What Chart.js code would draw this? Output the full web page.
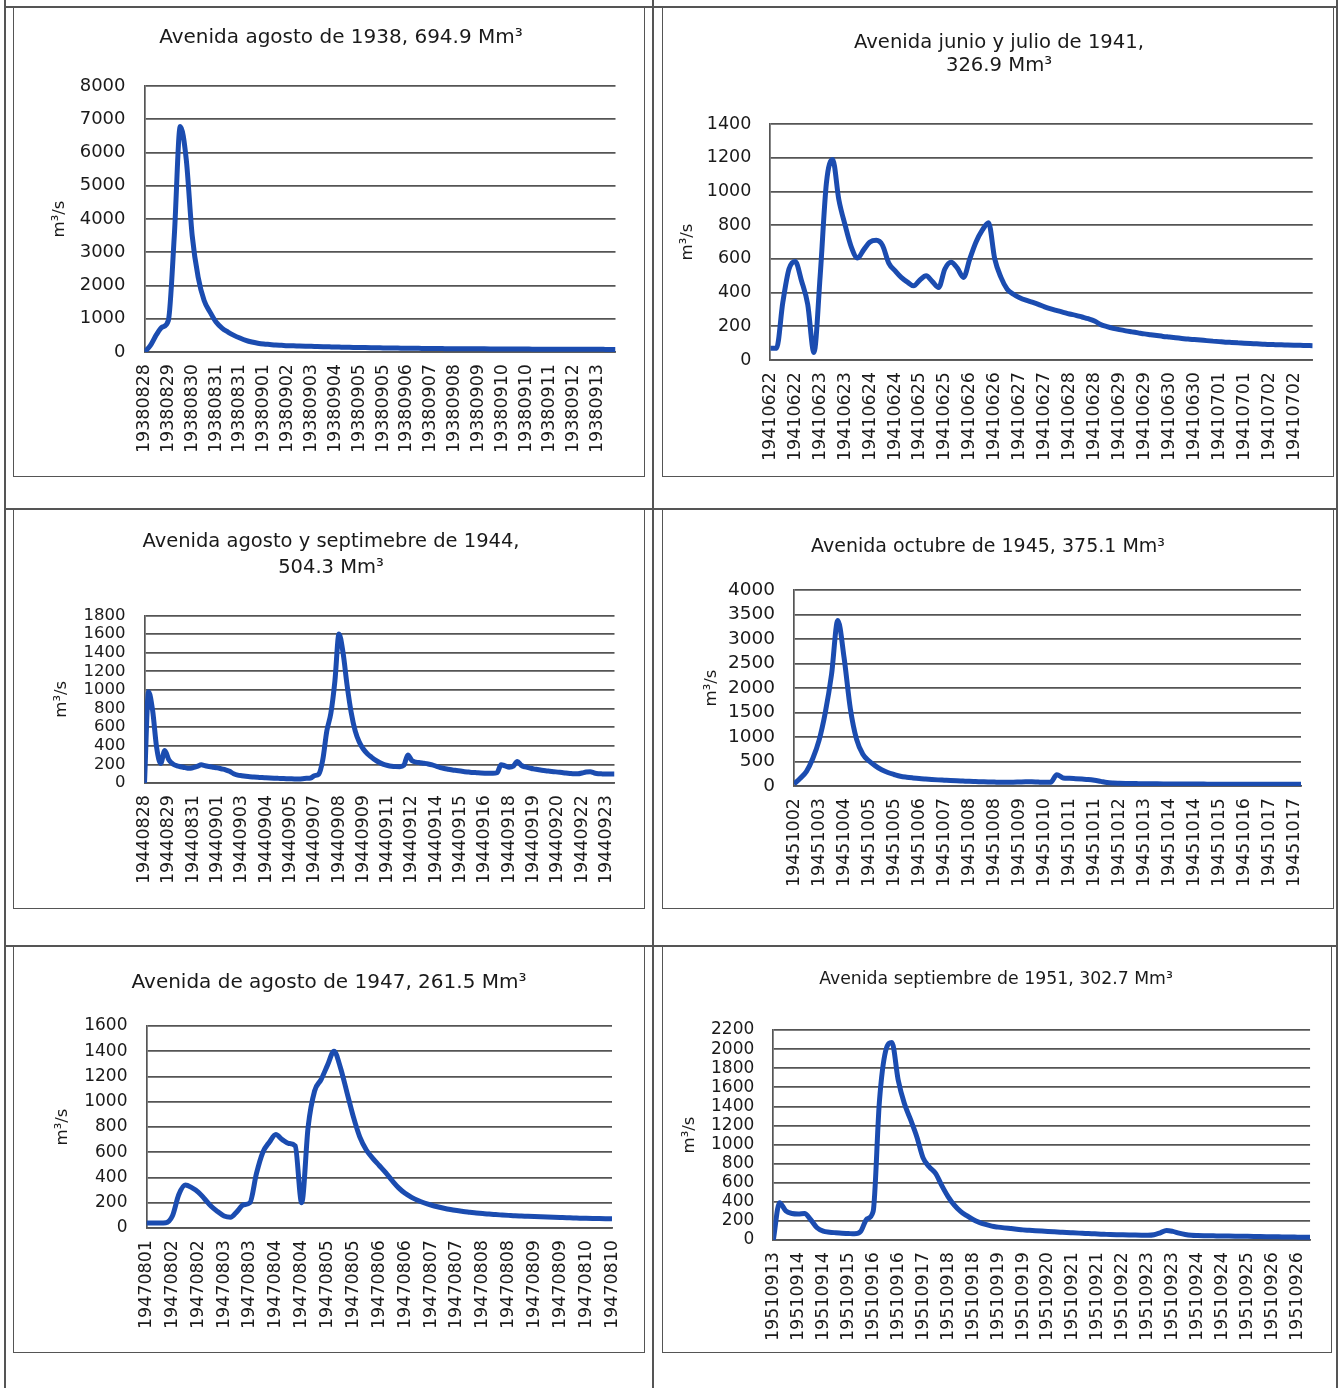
<!DOCTYPE html>
<html lang="es">

<head>
    <meta charset="utf-8" />
    <title>Avenidas 1938 - 1951</title>
    <script src="https://cdn.jsdelivr.net/npm/chart.js"></script>
    <style>
        body {
            margin: 0;
            background: #fff;
        }

        .page {
            position: relative;
            width: 1338px;
            height: 1388px;
            overflow: hidden;
        }

        .rule {
            position: absolute;
            background: #555;
        }

        .frame {
            position: absolute;
            border: 1.6px solid #555;
            box-sizing: border-box;
        }

        canvas {
            position: absolute;
        }
    </style>
</head>

<body>
    <div class="page">
        <div class="rule" style="left:4px;top:0;width:1.5px;height:1388px"></div>
        <div class="rule" style="left:652px;top:0;width:1.5px;height:1388px"></div>
        <div class="rule" style="left:1336px;top:0;width:1.5px;height:1388px"></div>
        <div class="rule" style="left:4px;top:6px;width:1334px;height:1.5px"></div>
        <div class="rule" style="left:4px;top:508px;width:1334px;height:1.5px"></div>
        <div class="rule" style="left:4px;top:945px;width:1334px;height:1.5px"></div>

        <div class="frame" style="left:13px;top:6px;width:632px;height:471px"></div>
        <div class="frame" style="left:662px;top:6px;width:672px;height:471px"></div>
        <div class="frame" style="left:13px;top:508px;width:632px;height:401px"></div>
        <div class="frame" style="left:662px;top:508px;width:672px;height:401px"></div>
        <div class="frame" style="left:13px;top:945px;width:632px;height:408px"></div>
        <div class="frame" style="left:662px;top:945px;width:670px;height:408px"></div>

        <canvas id="c1" width="632" height="470" style="left:13px;top:7px"></canvas>
        <canvas id="c2" width="671" height="470" style="left:662px;top:7px"></canvas>
        <canvas id="c3" width="632" height="400" style="left:13px;top:509px"></canvas>
        <canvas id="c4" width="671" height="400" style="left:662px;top:509px"></canvas>
        <canvas id="c5" width="632" height="406" style="left:13px;top:946px"></canvas>
        <canvas id="c6" width="669" height="406" style="left:662px;top:946px"></canvas>
    </div>

    <script>
        // --- data: one tick label every perLabel readings ---
        const c1Labels = ['19380828', '19380829', '19380830', '19380831', '19380831', '19380901', '19380902',
            '19380903', '19380904', '19380905', '19380905', '19380906', '19380907', '19380908', '19380909',
            '19380910', '19380910', '19380911', '19380912', '19380913'];
        const c1Flow = [0, 200, 520, 750, 950, 3500, 6780, 5800, 3500, 2250,
            1550, 1200, 900, 720, 600, 500, 420, 350, 300, 265,
            240, 225, 210, 200, 190, 185, 180, 175, 170, 165,
            160, 155, 150, 146, 142, 138, 135, 132, 129, 126,
            123, 120, 118, 116, 114, 112, 110, 108, 106, 104,
            102, 100, 99, 98, 97, 96, 95, 94, 93, 92,
            91, 90, 89, 88, 87, 86, 85, 85, 84, 84,
            83, 83, 82, 82, 81, 80, 80, 79, 78, 78];

        const c2Labels = ['19410622', '19410622', '19410623', '19410623', '19410624', '19410624', '19410625',
            '19410625', '19410626', '19410626', '19410627', '19410627', '19410628', '19410628', '19410629',
            '19410629', '19410630', '19410630', '19410701', '19410701', '19410702', '19410702'];
        const c2Flow = [69, 70, 340, 540, 585, 470, 330, 45, 500, 1050,
            1190, 950, 800, 670, 605, 655, 700, 710, 680, 575,
            530, 490, 462, 440, 475, 500, 465, 430, 540, 580,
            545, 490, 600, 700, 770, 815, 600, 490, 420, 390,
            370, 355, 343, 330, 315, 303, 293, 283, 273, 265,
            255, 245, 232, 210, 198, 188, 180, 173, 167, 161,
            155, 150, 145, 140, 136, 132, 128, 124, 121, 118,
            115, 112, 109, 106, 104, 102, 100, 98, 96, 94,
            92, 91, 90, 89, 88, 87, 86, 85];

        const c3Labels = ['19440828', '19440829', '19440831', '19440901', '19440903', '19440904', '19440905',
            '19440907', '19440908', '19440909', '19440911', '19440912', '19440914', '19440915', '19440916',
            '19440918', '19440919', '19440920', '19440922', '19440923'];
        const c3Flow = [0, 980, 780, 380, 210, 350, 250, 205, 185, 175,
            165, 158, 165, 178, 195, 185, 178, 170, 162, 152,
            142, 125, 100, 85, 78, 72, 67, 64, 61, 58,
            56, 54, 52, 50, 48, 46, 45, 44, 44, 46,
            50, 53, 80, 95, 250, 560, 750, 1100, 1600, 1400,
            1050, 760, 560, 440, 365, 315, 278, 245, 220, 200,
            188, 180, 176, 175, 190, 300, 240, 225, 218, 212,
            205, 195, 180, 165, 156, 148, 140, 134, 128, 122,
            118, 114, 111, 108, 106, 105, 104, 110, 195, 185,
            170, 180, 232, 190, 172, 162, 152, 145, 138, 132,
            127, 122, 117, 112, 107, 103, 100, 100, 108, 118,
            120, 108, 100, 98, 97, 96, 96];

        const c4Labels = ['19451002', '19451003', '19451004', '19451005', '19451005', '19451006', '19451007',
            '19451008', '19451008', '19451009', '19451010', '19451011', '19451011', '19451012', '19451013',
            '19451014', '19451014', '19451015', '19451016', '19451017', '19451017'];
        const c4Flow = [40, 160, 300, 560, 930, 1500, 2280, 3380, 2620, 1580,
            950, 650, 510, 410, 330, 275, 235, 200, 180, 165,
            152, 142, 133, 125, 118, 111, 105, 100, 95, 91,
            87, 83, 80, 77, 76, 78, 82, 86, 85, 80,
            76, 78, 230, 165, 158, 150, 142, 134, 118, 95,
            72, 62, 57, 53, 50, 48, 46, 45, 44, 43,
            42, 41, 40, 40, 39, 39, 38, 38, 38, 37,
            37, 37, 36, 36, 36, 36, 35, 35, 35, 35,
            35, 35];

        const c5Labels = ['19470801', '19470802', '19470802', '19470803', '19470803', '19470804', '19470804',
            '19470805', '19470805', '19470806', '19470806', '19470807', '19470807', '19470808', '19470808',
            '19470809', '19470809', '19470810', '19470810'];
        const c5Flow = [40, 40, 40, 42, 95, 265, 340, 320, 285, 230,
            172, 130, 95, 85, 130, 184, 200, 430, 600, 680,
            740, 700, 670, 650, 200, 800, 1085, 1175, 1290, 1400,
            1270, 1075, 880, 720, 618, 552, 495, 438, 375, 318,
            275, 243, 218, 198, 182, 168, 156, 146, 138, 131,
            125, 119, 114, 110, 106, 103, 100, 97, 95, 93,
            91, 89, 87, 85, 83, 81, 80, 78, 77, 76,
            75, 74, 73];

        const c6Labels = ['19510913', '19510914', '19510914', '19510915', '19510916', '19510916', '19510917',
            '19510918', '19510918', '19510919', '19510919', '19510920', '19510921', '19510921', '19510922',
            '19510923', '19510923', '19510924', '19510924', '19510925', '19510926', '19510926'];
        const c6Flow = [0, 390, 305, 278, 272, 278, 212, 128, 92, 82,
            76, 71, 68, 65, 90, 220, 300, 1450, 1980, 2070,
            1680, 1430, 1260, 1080, 860, 765, 698, 570, 455, 365,
            300, 255, 215, 185, 163, 145, 135, 127, 120, 113,
            106, 102, 98, 94, 90, 86, 82, 78, 75, 72,
            69, 66, 63, 60, 57, 55, 54, 53, 52, 51,
            50, 55, 75, 100, 90, 72, 58, 50, 47, 45,
            44, 43, 42, 41, 40, 39, 38, 37, 36, 35,
            34, 33, 32, 31, 30, 29, 28];

        const FONT = "'DejaVu Sans', sans-serif";
        const BLUE = '#1b4cb0';
        const GRID = '#555';
        Chart.defaults.font.family = FONT;
        Chart.defaults.color = '#1e1e1e';

        function avenida(id, labels, flow, perLabel, yMax, yStep, title, lay) {
            const pts = flow.map((v, i) => ({ x: i / perLabel, y: v }));
            return new Chart(document.getElementById(id), {
                type: 'line',
                data: {
                    datasets: [{
                        data: pts,
                        borderColor: BLUE,
                        borderWidth: 5,
                        pointRadius: 0,
                        cubicInterpolationMode: 'monotone',
                        fill: false
                    }]
                },
                options: {
                    responsive: false,
                    animation: false,
                    layout: { padding: { left: lay.padL, right: lay.padR, top: 0, bottom: 0 } },
                    plugins: {
                        legend: { display: false },
                        tooltip: { enabled: false },
                        title: {
                            display: true,
                            text: title,
                            color: '#1a1a1a',
                            font: { size: lay.tSize, weight: 'normal', lineHeight: lay.tLine },
                            padding: { top: lay.tTop, bottom: lay.tBottom }
                        }
                    },
                    scales: {
                        x: {
                            type: 'linear',
                            min: 0,
                            max: (flow.length - 1) / perLabel,
                            grid: { display: false, drawTicks: false },
                            border: { display: true, color: GRID, width: 1.7 },
                            ticks: {
                                stepSize: 1,
                                autoSkip: false,
                                includeBounds: false,
                                maxTicksLimit: 200,
                                minRotation: 90,
                                maxRotation: 90,
                                padding: 12,
                                color: '#1a1a1a',
                                font: { size: 17.5 },
                                callback: v => (Number.isInteger(v) && labels[v]) ? labels[v] : ''
                            },
                            afterFit: s => { s.height = lay.xH; }
                        },
                        y: {
                            min: 0,
                            max: yMax,
                            grid: { color: GRID, lineWidth: 1.7, drawTicks: false },
                            border: { color: GRID, width: 1.7 },
                            ticks: {
                                stepSize: yStep,
                                autoSkip: false,
                                maxTicksLimit: 100,
                                padding: 19,
                                color: '#1a1a1a',
                                font: { size: lay.yTick },
                                callback: v => String(v)
                            },
                            title: {
                                display: true,
                                text: 'm³/s',
                                color: '#1a1a1a',
                                font: { size: 16.5 },
                                padding: { top: lay.yTitleTop, bottom: 0 }
                            },
                            afterFit: s => { s.width = lay.yW; }
                        }
                    }
                }
            });
        }

        avenida('c1', c1Labels, c1Flow, 4, 8000, 1000, 'Avenida agosto de 1938, 694.9 Mm³',
            { padL: 53.5, padR: 29.5, yW: 78, xH: 125, tSize: 20, tLine: 1.15, tTop: 19, tBottom: 37, yTick: 18, yTitleTop: -16.4 });
        avenida('c2', c2Labels, c2Flow, 4, 1400, 200, ['Avenida junio y julio de 1941,', '326.9 Mm³'],
            { padL: 23.3, padR: 20.3, yW: 85, xH: 117, tSize: 19.6, tLine: 1.2, tTop: 24, tBottom: 46, yTick: 17.5, yTitleTop: -7.5 });
        avenida('c3', c3Labels, c3Flow, 6, 1800, 200, ['Avenida agosto y septimebre de 1944,', '504.3 Mm³'],
            { padL: 34.5, padR: 30.5, yW: 97, xH: 126, tSize: 19.5, tLine: 1.333, tTop: 20, tBottom: 34.5, yTick: 16.5, yTitleTop: 4.6 });
        avenida('c4', c4Labels, c4Flow, 4, 4000, 500, 'Avenida octubre de 1945, 375.1 Mm³',
            { padL: 13, padR: 32, yW: 119, xH: 123, tSize: 19, tLine: 1.158, tTop: 26.7, tBottom: 32.3, yTick: 18.5, yTitleTop: 27.1 });
        avenida('c5', c5Labels, c5Flow, 4, 1600, 200, 'Avenida de agosto de 1947, 261.5 Mm³',
            { padL: 30.5, padR: 30.5, yW: 103, xH: 124, tSize: 20, tLine: 1.15, tTop: 25.5, tBottom: 31.5, yTick: 17, yTitleTop: 9.6 });
        avenida('c6', c6Labels, c6Flow, 4, 2200, 200, 'Avenida septiembre de 1951, 302.7 Mm³',
            { padL: 17.3, padR: 18.3, yW: 94, xH: 112, tSize: 17.3, tLine: 1.156, tTop: 24, tBottom: 40, yTick: 17, yTitleTop: 0.8 });
    </script>
</body>

</html>
